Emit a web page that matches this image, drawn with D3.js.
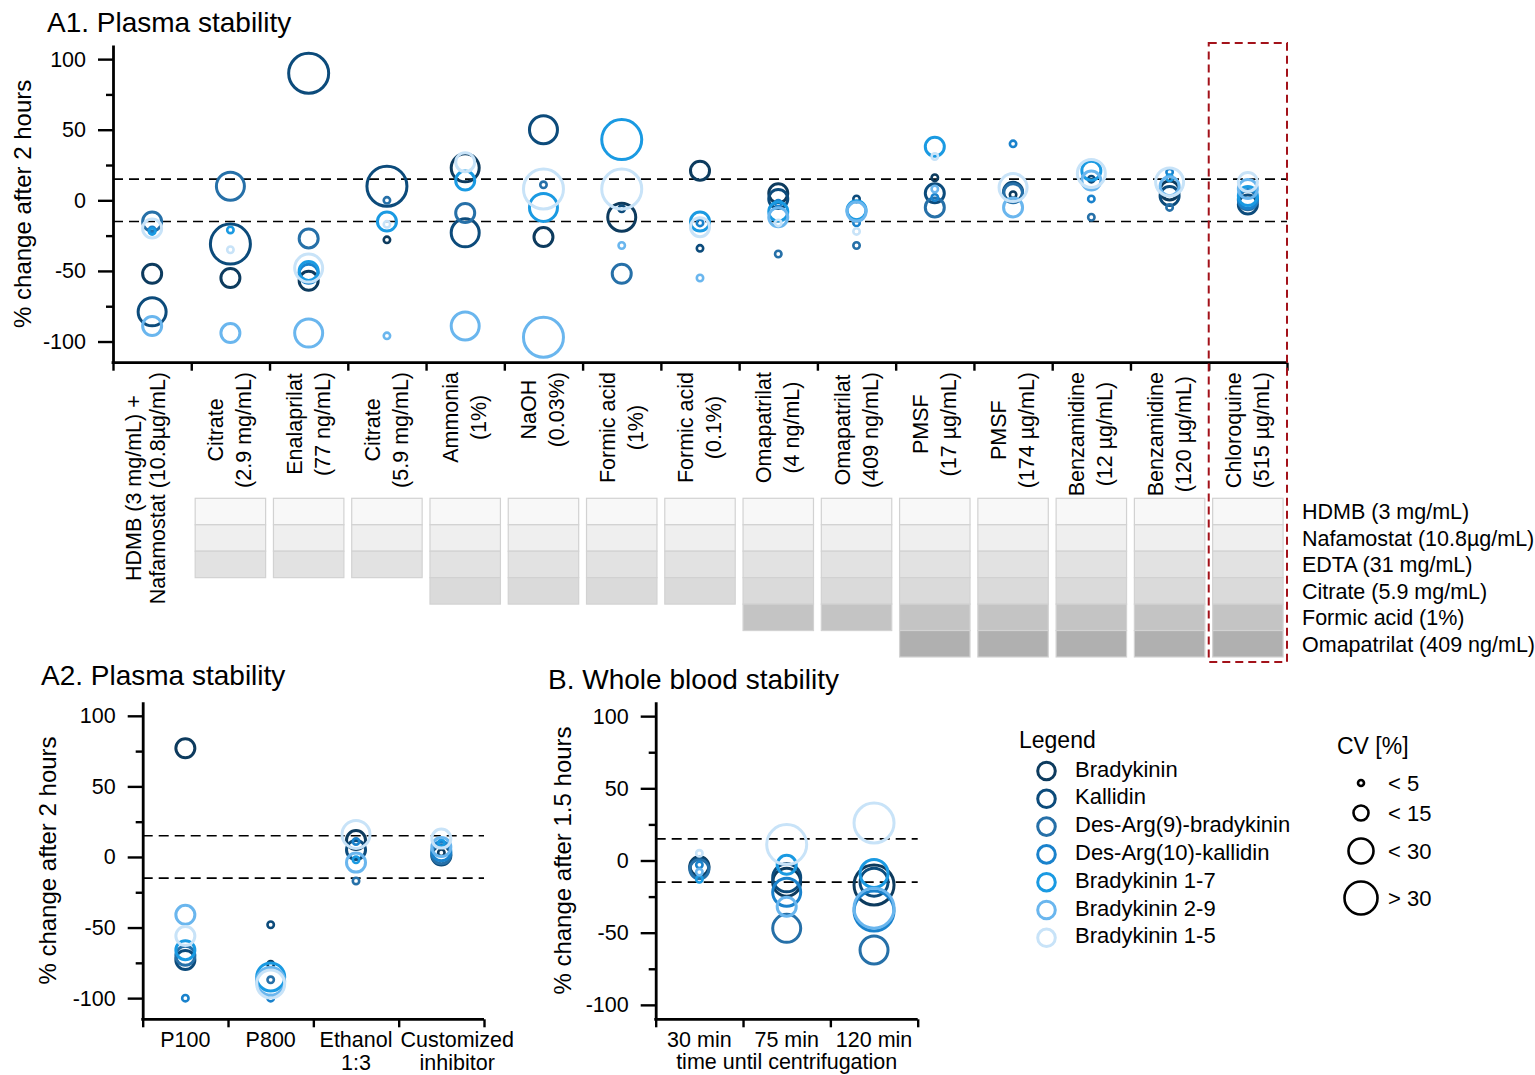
<!DOCTYPE html>
<html>
<head>
<meta charset="utf-8">
<script src="https://cdn.jsdelivr.net/npm/d3@7"></script>
<style>
  body { margin: 0; background: #fff; }
  text { font-family: "Liberation Sans", Arial, sans-serif; fill: #000; }
</style>
</head>
<body>
<svg id="chart" width="1535" height="1075"></svg>
<script>
// ---- peptides ----
const peptides = ["Bradykinin", "Kallidin", "Des-Arg(9)-bradykinin", "Des-Arg(10)-kallidin",
                  "Bradykinin 1-7", "Bradykinin 2-9", "Bradykinin 1-5"];
const peptideColors = ["#0d3b5e", "#0c4b7b", "#2670a8", "#1a82cc", "#1a9ae2", "#6ab6ee", "#c8e3f8"];

// CV classes: 0 "< 5", 1 "< 15", 2 "< 30", 3 "> 30"
const cvLabels = ["< 5", "< 15", "< 30", "> 30"];

// ---- A1: plasma stability, 2 h ----
const a1Categories = [
  ["HDMB (3 mg/mL) +", "Nafamostat (10.8µg/mL)"],
  ["Citrate", "(2.9 mg/mL)"],
  ["Enalaprilat", "(77 ng/mL)"],
  ["Citrate", "(5.9 mg/mL)"],
  ["Ammonia", "(1%)"],
  ["NaOH", "(0.03%)"],
  ["Formic acid", "(1%)"],
  ["Formic acid", "(0.1%)"],
  ["Omapatrilat", "(4 ng/mL)"],
  ["Omapatrilat", "(409 ng/mL)"],
  ["PMSF", "(17 µg/mL)"],
  ["PMSF", "(174 µg/mL)"],
  ["Benzamidine", "(12 µg/mL)"],
  ["Benzamidine", "(120 µg/mL)"],
  ["Chloroquine", "(515 µg/mL)"]
];
// one row per peptide, one column per category (% change)
const a1Values = [
  [-52, -55, -57, -28,  23, -26, -12,  21,   5, null,  16,    4, null,   7, null],
  [-79, -31,  90,  10, -23,  50,  -6, -34,   1,    1,   5,    6,   15,   3,   -3],
  [-15,  10, -27,   0,  -9,  11, -52, null, -38,  -32,  -5,    5,  -12,  -5,    0],
  [-21, null, -52, null, null, null, null, -16, -2, -16,   2,   40,    1,  20,    1],
  [-22, -21, -50, -15,  14,  -5,  43, -15,  -8,   -7,  38, null,   21,  16,    3],
  [-89, -94, -94, -96, -89, -97, -32, -55, -12,   -8,   8,   -5,   14,  10,    8],
  [-20, -35, -48, -17,  27,   8,   8, -19, -16,  -22,  31,    9,   19,  13,   13]
];
const a1CV = [
  [1, 1, 1, 0, 2, 1, 2, 1, 1, 0, 0, 0, 0, 1, 0],
  [2, 3, 3, 3, 2, 2, 0, 0, 1, 0, 1, 1, 0, 1, 1],
  [1, 2, 1, 0, 1, 0, 1, 0, 0, 0, 1, 1, 0, 0, 1],
  [0, 0, 1, 0, 0, 0, 0, 0, 0, 0, 0, 0, 0, 0, 1],
  [0, 0, 1, 1, 1, 2, 3, 1, 1, 1, 1, 0, 1, 0, 1],
  [1, 1, 2, 0, 2, 3, 0, 0, 1, 1, 0, 1, 1, 1, 1],
  [1, 0, 2, 0, 1, 3, 3, 1, 0, 0, 0, 2, 2, 2, 1]
];
// stabiliser mix under each category: number of rows from the top of the list
const additives = ["HDMB (3 mg/mL)", "Nafamostat (10.8µg/mL)", "EDTA (31 mg/mL)",
                   "Citrate (5.9 mg/mL)", "Formic acid (1%)", "Omapatrilat (409 ng/mL)"];
const additiveCount = [0, 3, 3, 3, 4, 4, 4, 4, 5, 5, 6, 6, 6, 6, 6];
const highlightedCategory = 14;

// ---- A2: plasma stability, 2 h ----
const a2Categories = [["P100"], ["P800"], ["Ethanol", "1:3"], ["Customized", "inhibitor"]];
const a2Values = [
  [  77,  -76,  12,  3],
  [ -73,  -48,   5,  1],
  [ -70,  -87, -17,  2],
  [-100, -100,  11,  4],
  [ -66,  -85,  -2, 10],
  [ -41,  -88,  -4,  7],
  [ -56,  -90,  16, 13]
];
const a2CV = [
  [1, 0, 1, 0],
  [1, 0, 1, 1],
  [1, 0, 0, 1],
  [0, 0, 0, 1],
  [1, 2, 0, 0],
  [1, 2, 1, 1],
  [1, 2, 2, 1]
];

// ---- B: whole blood stability, 1.5 h ----
const bCategories = [["30 min"], ["75 min"], ["120 min"]];
const bValues = [
  [-4, -15, -17],
  [-5, -12, -15],
  [-6, -47, -62],
  [-3, -22, -35],
  [-13, -3,  -9],
  [-8, -32, -33],
  [ 5,  11,  26]
];
const bCV = [
  [1, 2, 3],
  [1, 2, 2],
  [1, 2, 2],
  [0, 2, 3],
  [0, 1, 2],
  [0, 1, 3],
  [0, 3, 3]
];

const majorTicks = [-100, -50, 0, 50, 100];
const minorTicks = [-75, -25, 25, 75];
const limitBand = [-15, 15];

// ---- drawing ----
const svg = d3.select("#chart");
const color = d3.scaleOrdinal().domain(d3.range(peptides.length)).range(peptideColors);
const radius = d3.scaleOrdinal().domain([0, 1, 2, 3]).range([3.2, 9.5, 14, 20]);
const FONT = 21.5;

function drawPanel(o) {
  const g = svg.append("g");
  const n = o.categories.length;
  const y = d3.scaleLinear().domain(o.domain).range([o.yBottom, o.yTop]);
  const xBand = d3.scaleBand().domain(d3.range(n)).range([o.x0, o.x1]);
  const xEdge = d3.scaleLinear().domain([0, n]).range([o.x0, o.x1]);
  const cx = i => xBand(i) + xBand.bandwidth() / 2;

  // ±15 % limits
  g.selectAll("line.limit").data(limitBand).join("line")
    .attr("x1", o.x0).attr("x2", o.x1)
    .attr("y1", d => y(d)).attr("y2", d => y(d))
    .attr("stroke", "#000").attr("stroke-width", 1.6)
    .attr("stroke-dasharray", "10,6");

  // circles
  const pts = [];
  o.values.forEach((row, p) => row.forEach((v, i) => {
    if (v !== null) pts.push({ p, i, v, c: o.cv[p][i] });
  }));
  g.selectAll("circle.pt").data(pts).join("circle")
    .attr("cx", d => cx(d.i)).attr("cy", d => y(d.v))
    .attr("r", d => radius(d.c))
    .attr("fill", "none").attr("stroke", d => color(d.p))
    .attr("stroke-width", d => d.c === 0 ? 2.6 : 3);

  // y axis: minor ticks, then major ticks with labels
  g.append("g").attr("transform", `translate(${o.x0},0)`)
    .call(d3.axisLeft(y).tickValues(minorTicks).tickSize(7).tickSizeOuter(0).tickFormat(""))
    .call(a => a.select(".domain").remove())
    .call(a => a.selectAll("line").attr("stroke-width", 2.4));
  const ya = g.append("g").attr("transform", `translate(${o.x0},0)`)
    .call(d3.axisLeft(y).tickValues(majorTicks).tickSize(15).tickSizeOuter(0)
      .tickPadding(12).tickFormat(d => String(d)));
  ya.select(".domain").attr("stroke-width", 2.8);
  ya.selectAll("line").attr("stroke-width", 2.4);
  ya.selectAll("text").attr("font-size", 21.5).style("font-family", '"Liberation Sans", Arial, sans-serif');

  // x axis with ticks at category edges
  const xa = g.append("g").attr("transform", `translate(0,${o.yBottom})`)
    .call(d3.axisBottom(xEdge).tickValues(d3.range(n + 1)).tickSize(8).tickSizeOuter(0).tickFormat(""));
  xa.select(".domain").attr("stroke-width", 2.8).attr("d", `M${o.x0 - 1.4},0H${o.x1}`);
  xa.selectAll("line").attr("stroke-width", 2.4);

  // y label
  g.append("text")
    .attr("transform", `translate(${o.yLabelX},${(o.yTop + o.yBottom) / 2}) rotate(-90)`)
    .attr("text-anchor", "middle").attr("font-size", 24).text(o.yLabel);

  // title
  g.append("text").attr("x", o.titleX).attr("y", o.titleY)
    .attr("font-size", 28).text(o.title);

  return { g, y, cx, xBand };
}

// A1
const a1 = drawPanel({
  x0: 113, x1: 1287, yTop: 45, yBottom: 362.7, domain: [-115, 110],
  categories: a1Categories, values: a1Values, cv: a1CV,
  yLabel: "% change after 2 hours", yLabelX: 31,
  title: "A1. Plasma stability", titleX: 47, titleY: 32
});

// A1 rotated category labels, lines centred on each other, block starting below the axis
a1Categories.forEach((lines, i) => {
  const grp = a1.g.append("g");
  const offs = i === 0 ? [-11, 13] : [-7, 21];
  const texts = lines.map((t, j) => grp.append("text")
    .attr("font-size", FONT).attr("text-anchor", "middle").text(t));
  const maxLen = d3.max(texts, t => t.node().getComputedTextLength());
  texts.forEach((t, j) => t.attr("transform",
    `translate(${a1.cx(i) + offs[j]},${372 + maxLen / 2}) rotate(-90)`));
});

// stabiliser grid
const rowTop = 498.3, rowH = 26.45;
const rowFill = ["#f8f8f8", "#efefef", "#e2e2e2", "#dadada", "#c4c4c4", "#b0b0b0"];
const boxW = a1.xBand.bandwidth() * 0.9;
a1Categories.forEach((c, i) => {
  for (let r = 0; r < additiveCount[i]; r++) {
    a1.g.append("rect")
      .attr("x", a1.cx(i) - boxW / 2).attr("y", rowTop + r * rowH)
      .attr("width", boxW).attr("height", rowH)
      .attr("fill", rowFill[r]).attr("stroke", "#d2d2d2").attr("stroke-width", 1.2);
  }
});
additives.forEach((t, r) => {
  a1.g.append("text").attr("x", 1302).attr("y", rowTop + r * rowH + rowH / 2)
    .attr("dy", "0.36em").attr("font-size", FONT).text(t);
});

// highlight frame around the last category
{
  const xl = a1.cx(highlightedCategory) - a1.xBand.bandwidth() / 2;
  a1.g.append("rect")
    .attr("x", xl).attr("y", 43)
    .attr("width", a1.xBand.bandwidth()).attr("height", 662 - 43)
    .attr("fill", "none").attr("stroke", "#a3121a").attr("stroke-width", 2)
    .attr("stroke-dasharray", "8,5");
}

// horizontal category labels, nudged right when they would collide
function bottomLabels(panel, cats, baseY) {
  let prevRight = -Infinity;
  cats.forEach((lines, i) => {
    const texts = lines.map((t, j) => panel.g.append("text")
      .attr("y", baseY + j * 23).attr("font-size", 21.5)
      .attr("text-anchor", "middle").text(t));
    const w = d3.max(texts, t => t.node().getComputedTextLength());
    let c = panel.cx(i);
    if (c - w / 2 < prevRight + 8) c = prevRight + 8 + w / 2;
    texts.forEach(t => t.attr("x", c));
    prevRight = c + w / 2;
  });
}

// A2
const a2 = drawPanel({
  x0: 142.7, x1: 484, yTop: 701.7, yBottom: 1019.3, domain: [-115, 110],
  categories: a2Categories, values: a2Values, cv: a2CV,
  yLabel: "% change after 2 hours", yLabelX: 56,
  title: "A2. Plasma stability", titleX: 41, titleY: 685
});
bottomLabels(a2, a2Categories, 1047);

// B
const b = drawPanel({
  x0: 655.7, x1: 917.7, yTop: 701.7, yBottom: 1019.3, domain: [-110, 110],
  categories: bCategories, values: bValues, cv: bCV,
  yLabel: "% change after 1.5 hours", yLabelX: 571,
  title: "B. Whole blood stability", titleX: 548, titleY: 689
});
bottomLabels(b, bCategories, 1047);
b.g.append("text").attr("x", (655.7 + 917.7) / 2).attr("y", 1069)
  .attr("text-anchor", "middle").attr("font-size", 21.5).text("time until centrifugation");

// peptide legend
const leg = svg.append("g");
leg.append("text").attr("x", 1019).attr("y", 748).attr("font-size", 23).text("Legend");
peptides.forEach((p, k) => {
  const yy = 771 + k * 27.8;
  leg.append("circle").attr("cx", 1046.5).attr("cy", yy).attr("r", 8.8)
    .attr("fill", "none").attr("stroke", color(k)).attr("stroke-width", 3);
  leg.append("text").attr("x", 1075).attr("y", yy).attr("dy", "0.25em")
    .attr("font-size", 22).text(p);
});

// CV legend
const cvLeg = svg.append("g");
cvLeg.append("text").attr("x", 1337).attr("y", 754).attr("font-size", 23).text("CV [%]");
const cvLegY = [783, 813, 851, 898];
const cvLegR = [3, 7.5, 12.5, 16.5];
cvLabels.forEach((t, k) => {
  cvLeg.append("circle").attr("cx", 1361).attr("cy", cvLegY[k]).attr("r", cvLegR[k])
    .attr("fill", "none").attr("stroke", "#000").attr("stroke-width", 2.6);
  cvLeg.append("text").attr("x", 1388).attr("y", cvLegY[k]).attr("dy", "0.36em")
    .attr("font-size", 22).text(t);
});
</script>
</body>
</html>
